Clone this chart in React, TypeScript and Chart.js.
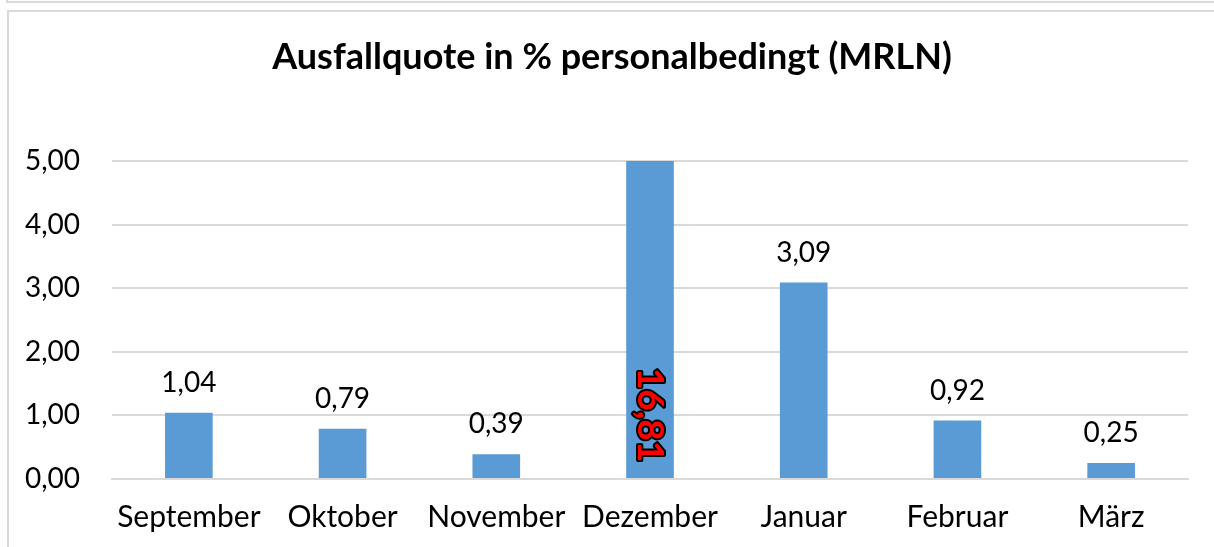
import React, { useEffect, useRef } from "react";
import { Chart, registerables } from "chart.js";

Chart.register(...registerables);

const TITLE = "Ausfallquote in % personalbedingt (MRLN)";
const categories = ["September", "Oktober", "November", "Dezember", "Januar", "Februar", "März"];
const values = [1.04, 0.79, 0.39, 16.81, 3.09, 0.92, 0.25];
const yTicks = [0, 1, 2, 3, 4, 5];

const FONT = "Lato, 'Open Sans', sans-serif";
const fmt = (v: number) => v.toFixed(2).replace(".", ",");

const labelPlugin = {
  id: "valueLabels",
  afterDatasetsDraw(chart: any) {
    const ctx = chart.ctx;
    const meta = chart.getDatasetMeta(0);
    const area = chart.chartArea;
    const yMax = chart.scales.y.max;
    ctx.save();
    meta.data.forEach((bar: any, i: number) => {
      const v = values[i];
      if (v > yMax) {
        ctx.save();
        ctx.translate(bar.x, (area.top + area.bottom) / 2 + 95);
        ctx.rotate(Math.PI / 2);
        ctx.font = `bold 37px ${FONT}`;
        ctx.textAlign = "center";
        ctx.textBaseline = "middle";
        ctx.lineWidth = 4;
        ctx.lineJoin = "round";
        ctx.strokeStyle = "#000000";
        ctx.strokeText(fmt(v), 0, 0);
        ctx.fillStyle = "#ff0000";
        ctx.fillText(fmt(v), 0, 0);
        ctx.restore();
      } else {
        ctx.font = `28px ${FONT}`;
        ctx.textAlign = "center";
        ctx.textBaseline = "middle";
        ctx.fillStyle = "#000000";
        ctx.fillText(fmt(v), bar.x, bar.y - 30);
      }
    });
    ctx.restore();
  },
  beforeDraw(chart: any) {
    const ctx = chart.ctx;
    ctx.save();
    ctx.fillStyle = "#ffffff";
    ctx.fillRect(0, 0, chart.width, chart.height);
    ctx.strokeStyle = "#d9d9d9";
    ctx.lineWidth = 2;
    ctx.beginPath();
    ctx.moveTo(7, 0);
    ctx.lineTo(7, 2);
    ctx.lineTo(chart.width, 2);
    ctx.moveTo(chart.width, 11);
    ctx.lineTo(8, 11);
    ctx.lineTo(8, chart.height);
    ctx.stroke();
    ctx.font = `bold 36px ${FONT}`;
    ctx.fillStyle = "#000000";
    ctx.textAlign = "center";
    ctx.textBaseline = "middle";
    ctx.fillText(TITLE, 612, 57);
    ctx.restore();
  },
};

export default function App() {
  const ref = useRef<HTMLCanvasElement>(null);
  useEffect(() => {
    if (!ref.current) return;
    const chart = new Chart(ref.current, {
      type: "bar",
      data: {
        labels: categories,
        datasets: [
          {
            data: values,
            backgroundColor: "#5b9bd5",
            barPercentage: 0.62,
            categoryPercentage: 0.5,
          },
        ],
      },
      options: {
        animation: false,
        responsive: false,
        layout: { padding: { top: 161, right: 26, left: 0, bottom: 0 } },
        plugins: { legend: { display: false }, tooltip: { enabled: false }, title: { display: false } },
        scales: {
          x: {
            grid: { display: false, drawTicks: false },
            border: { display: true, color: "#d9d9d9", width: 2 },
            ticks: { color: "#000000", font: { family: FONT, size: 30 }, padding: 20, maxRotation: 0 },
            afterFit: (s: any) => { s.height = 68; },
          },
          y: {
            min: 0,
            max: 5,
            afterBuildTicks: (s: any) => { s.ticks = yTicks.map((v) => ({ value: v })); },
            grid: { color: "#d9d9d9", lineWidth: 2, drawTicks: false },
            border: { display: false },
            ticks: {
              color: "#000000",
              font: { family: FONT, size: 28 },
              padding: 32,
              callback: (v: any) => fmt(Number(v)),
            },
            afterFit: (s: any) => { s.width = 112; },
          },
        },
      },
      plugins: [labelPlugin],
    });
    return () => chart.destroy();
  }, []);
  return (
    <div style={{ position: "absolute", left: 0, top: 0, width: 1214, height: 547 }}>
      <canvas ref={ref} width={1214} height={547} style={{ display: "block" }} />
    </div>
  );
}
